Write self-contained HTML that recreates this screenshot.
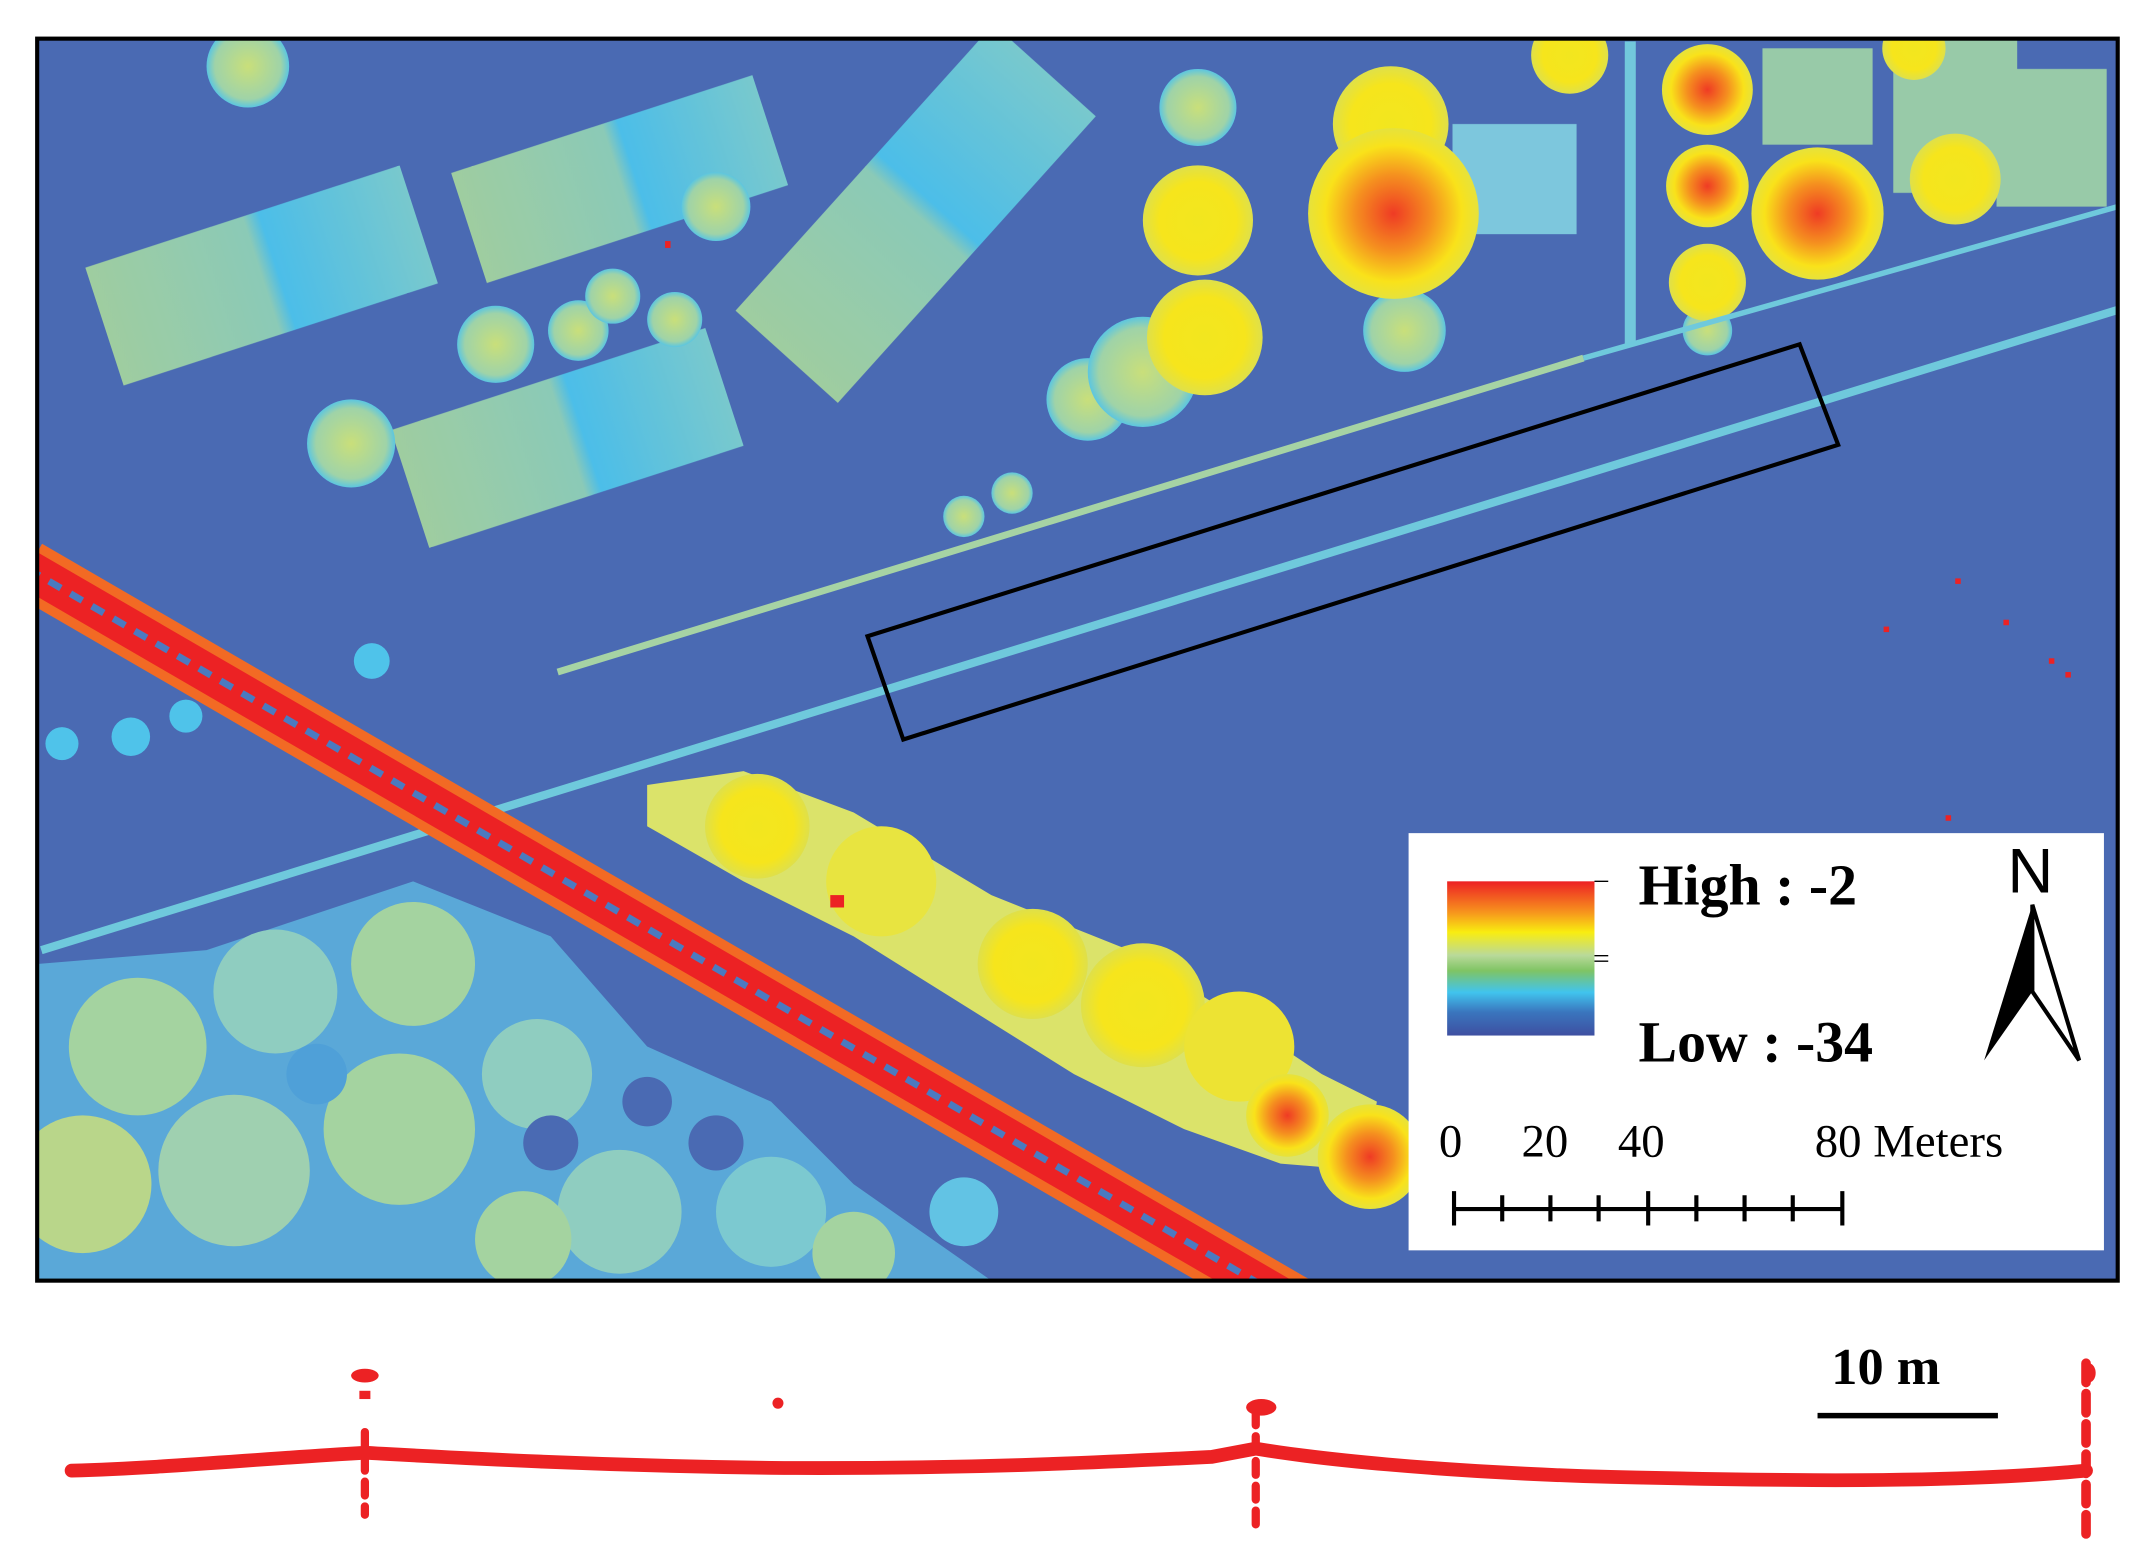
<!DOCTYPE html>
<html><head><meta charset="utf-8"><style>html,body{margin:0;padding:0;background:#fff}svg{display:block}</style></head><body>
<svg width="2148" height="1563" viewBox="0 0 1560 1135" xmlns="http://www.w3.org/2000/svg">
<defs>
<linearGradient id="bar" x1="0" y1="0" x2="0" y2="1">
<stop offset="0" stop-color="#ed2024"/><stop offset="0.2" stop-color="#f7941d"/><stop offset="0.33" stop-color="#f9ed10"/><stop offset="0.48" stop-color="#b9d99a"/><stop offset="0.58" stop-color="#7fc464"/><stop offset="0.72" stop-color="#41c4ee"/><stop offset="0.85" stop-color="#3a75bd"/><stop offset="1" stop-color="#3e4fa1"/></linearGradient>
<linearGradient id="bld" x1="0" y1="0" x2="1" y2="0"><stop offset="0" stop-color="#a4d3a0"/><stop offset="0.5" stop-color="#8fd0b8"/><stop offset="0.55" stop-color="#4cc3ec"/><stop offset="1" stop-color="#7ccfcf"/></linearGradient>
<radialGradient id="ty"><stop offset="0" stop-color="#f2e61f"/><stop offset="0.7" stop-color="#f6e51c"/><stop offset="1" stop-color="#dfe04a"/></radialGradient>
<radialGradient id="to"><stop offset="0" stop-color="#ef3b24"/><stop offset="0.45" stop-color="#f5901f"/><stop offset="0.8" stop-color="#f9e21a"/><stop offset="1" stop-color="#e6e23c"/></radialGradient>
<radialGradient id="tg"><stop offset="0" stop-color="#c9df7a"/><stop offset="0.8" stop-color="#9fd3a8"/><stop offset="1" stop-color="#5cc6e0"/></radialGradient>
<clipPath id="mc"><rect x="27" y="28" width="1511" height="902"/></clipPath>
</defs>
<rect width="1560" height="1135" fill="#fff"/>
<g clip-path="url(#mc)">
<rect x="27" y="28" width="1511" height="902" fill="#4a6ab3"/>
<g opacity="0.95">
<rect x="-120" y="-45" width="240" height="90" fill="url(#bld)" transform="translate(190,200) rotate(-18)"/>
<rect x="-115" y="-42" width="230" height="84" fill="url(#bld)" transform="translate(450,130) rotate(-18)"/>
<rect x="-120" y="-45" width="240" height="90" fill="url(#bld)" transform="translate(412,318) rotate(-18)"/>
<rect x="-140" y="-50" width="280" height="100" fill="url(#bld)" transform="translate(665,155) rotate(-48)"/>
<rect x="-45" y="-40" width="90" height="80" fill="#80cde0" transform="translate(1100,130)"/>
<rect x="-40" y="-35" width="80" height="70" fill="#9cd0a8" transform="translate(1320,70)"/>
<rect x="-45" y="-60" width="90" height="120" fill="#9cd0a8" transform="translate(1420,80)"/>
<rect x="-40" y="-50" width="80" height="100" fill="#9cd0a8" transform="translate(1490,100)"/>
</g>
<g fill="url(#tg)">
<circle cx="180" cy="48" r="30"/><circle cx="255" cy="322" r="32"/><circle cx="360" cy="250" r="28"/><circle cx="420" cy="240" r="22"/><circle cx="445" cy="215" r="20"/><circle cx="490" cy="232" r="20"/><circle cx="520" cy="150" r="25"/><circle cx="870" cy="78" r="28"/><circle cx="790" cy="290" r="30"/><circle cx="830" cy="270" r="40"/><circle cx="1020" cy="240" r="30"/><circle cx="1240" cy="240" r="18"/><circle cx="700" cy="375" r="15"/><circle cx="735" cy="358" r="15"/>
<circle cx="270" cy="480" r="13" fill="#4fc3ea"/><circle cx="45" cy="540" r="12" fill="#4fc3ea"/><circle cx="95" cy="535" r="14" fill="#4fc3ea"/><circle cx="135" cy="520" r="12" fill="#4fc3ea"/>
</g>
<circle cx="870" cy="160" r="40" fill="url(#ty)"/>
<circle cx="875" cy="245" r="42" fill="url(#ty)"/>
<circle cx="1010" cy="90" r="42" fill="url(#ty)"/>
<circle cx="1012" cy="155" r="62" fill="url(#to)"/>
<circle cx="1140" cy="40" r="28" fill="url(#ty)"/>
<circle cx="1240" cy="65" r="33" fill="url(#to)"/>
<circle cx="1240" cy="135" r="30" fill="url(#to)"/>
<circle cx="1240" cy="205" r="28" fill="url(#ty)"/>
<circle cx="1320" cy="155" r="48" fill="url(#to)"/>
<circle cx="1390" cy="35" r="23" fill="url(#ty)"/>
<circle cx="1420" cy="130" r="33" fill="url(#ty)"/>
<rect x="1180" y="30" width="8" height="220" fill="#72c8dc"/>
<g>
<path d="M27 700 L150 690 L300 640 L400 680 L470 760 L560 800 L620 860 L720 930 L27 930 Z" fill="#5aa8d8"/>
<circle cx="100" cy="760" r="50" fill="#a4d3a0"/><circle cx="200" cy="720" r="45" fill="#8fcdc0"/><circle cx="300" cy="700" r="45" fill="#a4d3a0"/><circle cx="60" cy="860" r="50" fill="#b9d68a"/><circle cx="170" cy="850" r="55" fill="#9fd0b0"/><circle cx="290" cy="820" r="55" fill="#a4d3a0"/><circle cx="390" cy="780" r="40" fill="#8fcdc0"/><circle cx="450" cy="880" r="45" fill="#8fcdc0"/><circle cx="560" cy="880" r="40" fill="#7cc9d0"/><circle cx="380" cy="900" r="35" fill="#a4d3a0"/><circle cx="620" cy="910" r="30" fill="#a4d3a0"/><circle cx="700" cy="880" r="25" fill="#62c3e4"/><circle cx="400" cy="830" r="20" fill="#4a6ab3"/><circle cx="470" cy="800" r="18" fill="#4a6ab3"/><circle cx="230" cy="780" r="22" fill="#4fa0d8"/><circle cx="520" cy="830" r="20" fill="#4a6ab3"/>
</g>
<g>
<path d="M470 570 L540 560 L620 590 L720 650 L820 690 L900 740 L960 780 L1000 800 L990 850 L930 845 L860 820 L780 780 L700 730 L620 680 L540 640 L470 600 Z" fill="#dbe36a"/>
<circle cx="550" cy="600" r="38" fill="url(#ty)"/><circle cx="640" cy="640" r="40" fill="#e8e440"/><circle cx="750" cy="700" r="40" fill="url(#ty)"/><circle cx="830" cy="730" r="45" fill="url(#ty)"/><circle cx="900" cy="760" r="40" fill="#ede333"/><circle cx="935" cy="810" r="30" fill="url(#to)"/><circle cx="995" cy="840" r="38" fill="url(#to)"/>
</g>
<line x1="30" y1="690" x2="1538" y2="225" stroke="#6fc9dc" stroke-width="6"/>
<line x1="405" y1="488" x2="1150" y2="260" stroke="#a6d3a4" stroke-width="5"/>
<line x1="1150" y1="260" x2="1538" y2="150" stroke="#6fc9dc" stroke-width="4"/>
<line x1="20" y1="413" x2="940" y2="947" stroke="#f26a24" stroke-width="42"/>
<line x1="20" y1="413" x2="940" y2="947" stroke="#ec2224" stroke-width="28"/>
<line x1="20" y1="413" x2="940" y2="947" stroke="#4b7ac0" stroke-width="5" stroke-dasharray="10 8"/>
<rect x="603" y="650" width="10" height="9" fill="#ec2224"/>
<g fill="#ec2224"><rect x="1420" y="420" width="4" height="4"/><rect x="1368" y="455" width="4" height="4"/><rect x="1455" y="450" width="4" height="4"/><rect x="1488" y="478" width="4" height="4"/><rect x="1500" y="488" width="4" height="4"/><rect x="1413" y="592" width="4" height="4"/><rect x="483" y="175" width="4" height="5"/></g>
<polygon points="630,462 1307,250 1335,323 656,537" fill="none" stroke="#000" stroke-width="3"/>
<rect x="1023" y="605" width="505" height="303" fill="#fff"/>
<rect x="1051" y="640" width="107" height="112" fill="url(#bar)"/>
<line x1="1158" y1="640" x2="1168" y2="640" stroke="#000" stroke-width="1"/>
<line x1="1158" y1="694" x2="1168" y2="694" stroke="#000" stroke-width="1"/>
<line x1="1158" y1="698" x2="1168" y2="698" stroke="#000" stroke-width="1"/>
<g font-family="Liberation Serif, serif" fill="#000">
<text x="1190" y="657" font-size="42" font-weight="bold">High : -2</text>
<text x="1190" y="771" font-size="42" font-weight="bold">Low : -34</text>
<text x="1045" y="840" font-size="34">0</text>
<text x="1105" y="840" font-size="34">20</text>
<text x="1175" y="840" font-size="34">40</text>
<text x="1318" y="840" font-size="34">80 Meters</text>
<text x="1458" y="648" font-size="46" font-family="Liberation Sans, sans-serif">N</text>
</g>
<polygon points="1476,657 1441,770 1476,720" fill="#000"/>
<polygon points="1476,657 1510,770 1476,720" fill="none" stroke="#000" stroke-width="3"/>
<g stroke="#000" stroke-width="3">
<line x1="1056" y1="878" x2="1338" y2="878"/>
<line x1="1056" y1="865" x2="1056" y2="890"/><line x1="1091" y1="868" x2="1091" y2="887"/><line x1="1126" y1="868" x2="1126" y2="887"/><line x1="1161" y1="868" x2="1161" y2="887"/><line x1="1197" y1="865" x2="1197" y2="890"/><line x1="1232" y1="868" x2="1232" y2="887"/><line x1="1267" y1="868" x2="1267" y2="887"/><line x1="1302" y1="868" x2="1302" y2="887"/><line x1="1338" y1="865" x2="1338" y2="890"/>
</g>
</g>
<rect x="27" y="28" width="1511" height="902" fill="none" stroke="#000" stroke-width="3"/>
<g fill="none" stroke="#ec2224" stroke-width="10" stroke-linecap="round">
<path d="M52 1068 C120 1066 180 1060 265 1055 C320 1058 420 1064 560 1066 C700 1067 800 1062 880 1058 L912 1052 C960 1060 1040 1068 1150 1072 C1300 1076 1420 1077 1515 1068"/>
<path d="M265 1040 L265 1100" stroke-width="6" stroke-dasharray="10 8"/>
<path d="M912 1025 L912 1110" stroke-width="6" stroke-dasharray="10 8"/>
<path d="M1515 990 L1515 1115" stroke-width="7" stroke-dasharray="14 8"/>
</g>
<g fill="#ec2224"><ellipse cx="265" cy="999" rx="10" ry="5"/><rect x="261" y="1010" width="8" height="6"/><ellipse cx="565" cy="1019" rx="4" ry="4"/><ellipse cx="916" cy="1022" rx="11" ry="6"/><ellipse cx="1517" cy="997" rx="5" ry="7"/></g>
<text x="1330" y="1005" font-family="Liberation Serif, serif" font-size="38" font-weight="bold">10 m</text>
<line x1="1320" y1="1028" x2="1451" y2="1028" stroke="#000" stroke-width="4"/>
</svg>
</body></html>
